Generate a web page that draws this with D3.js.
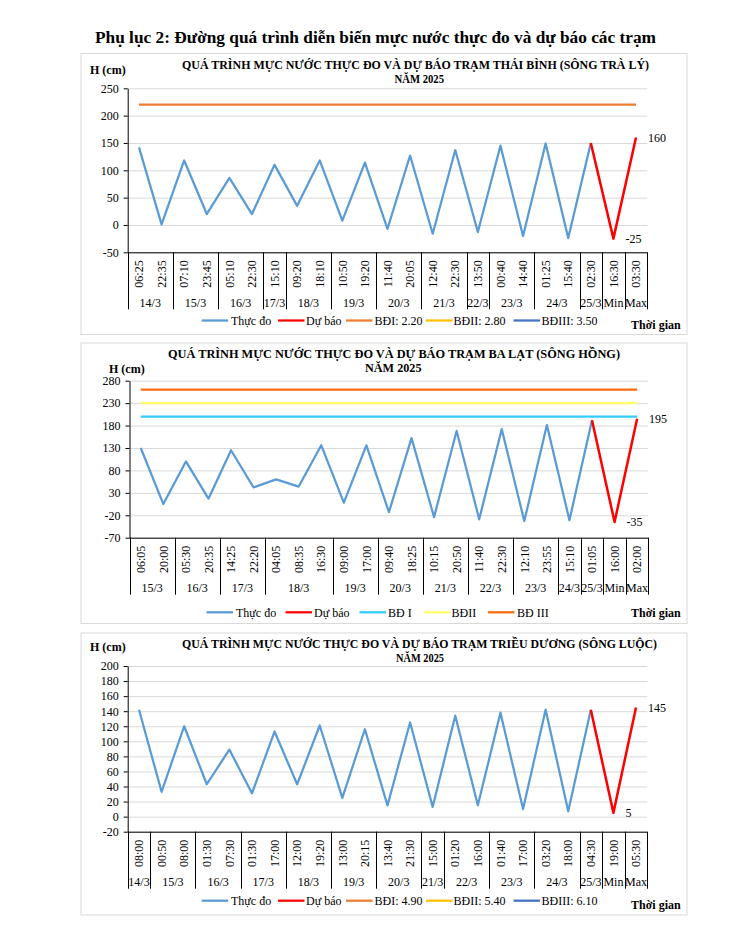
<!DOCTYPE html>
<html><head><meta charset="utf-8">
<script src="https://cdn.jsdelivr.net/npm/d3@7"></script>
<style>
body{margin:0;background:#fff}
svg{display:block}
text{font-family:"Liberation Serif","Times New Roman",serif;fill:#000}
</style>
</head><body>
<svg id="c" width="746" height="939"></svg>
<script>
// ---------------- DATA ----------------
const pageTitle = "Phụ lục 2: Đường quá trình diễn biến mực nước thực đo và dự báo các trạm";

// Chart 1 – Thái Bình (sông Trà Lý)
const tbTitle = ["QUÁ TRÌNH MỰC NƯỚC THỰC ĐO VÀ DỰ BÁO TRẠM  THÁI BÌNH (SÔNG TRÀ LÝ)", "NĂM 2025"];
const tbTimes = ["06:25","22:35","07:10","23:45","05:10","22:30","15:10","09:20","18:10","10:50","19:20","11:40","20:05","12:40","22:30","13:50","00:40","14:40","01:25","15:40","02:30","16:30","03:30"];
const tbDates = [["14/3",2],["15/3",2],["16/3",2],["17/3",1],["18/3",2],["19/3",2],["20/3",2],["21/3",2],["22/3",1],["23/3",2],["24/3",2],["25/3",1],["Min",1],["Max",1]];
const tbObserved = [142,1,118,20,86,20,110,35,118,8,114,-7,127,-16,137,-13,145,-20,149,-24,150];
const tbForecast = [150,-25,160];
const tbAlerts = [220,280,350];
const tbTicks = [250,200,150,100,50,0,-50];
const tbLegend = ["Thực đo","Dự báo","BĐI: 2.20","BĐII: 2.80","BĐIII: 3.50"];

// Chart 2 – Ba Lạt (sông Hồng)
const blTitle = ["QUÁ TRÌNH  MỰC NƯỚC THỰC ĐO VÀ  DỰ BÁO TRẠM BA LẠT  (SÔNG HỒNG)", "NĂM 2025"];
const blTimes = ["06:05","20:00","05:30","20:35","14:25","22:20","04:05","08:35","16:30","09:00","17:00","09:40","18:25","10:15","20:50","11:40","22:30","12:10","23:55","15:10","01:05","16:00","02:00"];
const blDates = [["15/3",2],["16/3",2],["17/3",2],["18/3",3],["19/3",2],["20/3",2],["21/3",2],["22/3",2],["23/3",2],["24/3",1],["25/3",1],["Min",1],["Max",1]];
const blObserved = [130,5,100,17,125,42,60,44,136,8,136,-13,152,-24,168,-29,172,-33,181,-31,192];
const blForecast = [192,-35,195];
const blAlerts = [200,230,260];
const blTicks = [280,230,180,130,80,30,-20,-70];
const blLegend = ["Thực đo","Dự báo","BĐ I","BĐII","BĐ III"];

// Chart 3 – Triều Dương (sông Luộc)
const tdTitle = ["QUÁ TRÌNH MỰC NƯỚC THỰC ĐO VÀ DỰ BÁO TRẠM TRIỀU  DƯƠNG  (SÔNG LUỘC)", "NĂM 2025"];
const tdTimes = ["08:00","00:50","08:00","01:30","07:30","01:30","17:00","12:00","19:20","13:00","20:15","13:40","21:30","15:00","01:20","16:00","01:40","17:00","03:20","18:00","04:30","19:00","05:30"];
const tdDates = [["14/3",1],["15/3",2],["16/3",2],["17/3",2],["18/3",2],["19/3",2],["20/3",2],["21/3",1],["22/3",2],["23/3",2],["24/3",2],["25/3",1],["Min",1],["Max",1]];
const tdObserved = [142,33,120,43,89,31,113,43,121,25,116,15,125,13,134,15,138,10,142,7,142];
const tdForecast = [142,5,145];
const tdAlerts = [490,540,610];
const tdTicks = [200,180,160,140,120,100,80,60,40,20,0,-20];
const tdLegend = ["Thực đo","Dự báo","BĐI: 4.90","BĐII: 5.40","BĐIII: 6.10"];

// ---------------- STYLE / LAYOUT ----------------
const BLUE = "#5B9BD5", RED = "#FF0000";
const colorsA = [BLUE, RED, "#ED7D31", "#FFC000", "#4472C4"];
const colorsB = [BLUE, RED, "#33CCFF", "#FFFF66", "#FF6A0D"];
const SERIF = "Liberation Serif, Times New Roman, serif";

const svg = d3.select("#c");

function fitText(t, w){ t.attr("textLength", w).attr("lengthAdjust","spacingAndGlyphs"); return t; }

fitText(svg.append("text").attr("x",95).attr("y",43).attr("font-size",17).attr("font-weight","bold").text(pageTitle), 561);

function drawChart(cfg){
  const g = svg.append("g");
  g.append("rect").attr("x",cfg.box[0]+0.5).attr("y",cfg.box[1]+0.5).attr("width",cfg.box[2]).attr("height",cfg.box[3])
    .attr("fill","#fff").attr("stroke","#D9D9D9").attr("stroke-width",1);
  fitText(g.append("text").attr("x",cfg.t1[0]).attr("y",cfg.t1[1]).attr("font-size",cfg.tfs).attr("font-weight","bold").text(cfg.title[0]), cfg.t1[2]);
  fitText(g.append("text").attr("x",cfg.t2[0]).attr("y",cfg.t2[1]).attr("font-size",cfg.tfs).attr("font-weight","bold").text(cfg.title[1]), cfg.t2[2]);
  g.append("text").attr("x",cfg.hl[0]).attr("y",cfg.hl[1]).attr("font-size",12).attr("font-weight","bold").text("H (cm)");

  const n = cfg.times.length;
  const x = d3.scaleBand().domain(d3.range(n)).range([cfg.x0, cfg.x1]);
  const cx = i => x(i) + x.bandwidth()/2;
  const y = d3.scaleLinear().domain([cfg.ticks[cfg.ticks.length-1], cfg.ticks[0]]).range([cfg.yB, cfg.yT]);

  // gridlines
  g.append("g").attr("transform",`translate(${cfg.x0},0)`)
    .call(d3.axisLeft(y).tickValues(cfg.ticks).tickSize(-(cfg.x1-cfg.x0)).tickFormat(""))
    .call(s=>{s.select(".domain").remove(); s.selectAll("line").attr("stroke","#D9D9D9").attr("stroke-width",1);});
  // y axis
  g.append("g").attr("transform",`translate(${cfg.x0},0)`)
    .call(d3.axisLeft(y).tickValues(cfg.ticks).tickSize(4).tickPadding(5).tickSizeOuter(0).tickFormat(d=>String(d)))
    .call(s=>{
      s.attr("font-family",SERIF).attr("font-size",12);
      s.select(".domain").attr("stroke","#000");
      s.selectAll("line").attr("stroke","#000");
      s.selectAll("text").attr("fill","#000");
    });
  // x axis (times rotated)
  const xa = g.append("g").attr("transform",`translate(0,${cfg.yB})`)
    .call(d3.axisBottom(x).tickSize(0).tickFormat(i=>cfg.times[i]));
  xa.attr("font-family",SERIF).attr("font-size",12);
  xa.select(".domain").attr("stroke","#000").attr("d",`M${cfg.x0},0.5H${cfg.x1}`);
  xa.selectAll(".tick text").attr("transform","rotate(-90)").attr("x",-8).attr("y",0).attr("dy","0.35em")
    .attr("text-anchor","end").attr("fill","#000");
  // date groups
  let start = 0;
  const bounds = [0];
  cfg.dates.forEach(([lab,cnt])=>{
    const a = x(start), b = (start+cnt<n) ? x(start+cnt) : cfg.x1;
    g.append("text").attr("x",(a+b)/2).attr("y",cfg.yB+50).attr("dy","0.35em").attr("text-anchor","middle")
      .attr("font-size",12).text(lab);
    start += cnt; bounds.push(start);
  });
  bounds.forEach(k=>{
    const xx = Math.round(k<n ? x(k) : cfg.x1)+0.5;
    g.append("line").attr("x1",xx).attr("x2",xx).attr("y1",cfg.yB).attr("y2",cfg.yB+57).attr("stroke","#000").attr("stroke-width",1);
  });

  const line = d3.line().x(d=>cx(d[0])).y(d=>y(d[1]));
  const [ymin, ymax] = y.domain();
  cfg.alerts.forEach((v,k)=>{
    if (v < ymin || v > ymax) return;
    g.append("path").datum(d3.range(n).map(i=>[i,v])).attr("d",line).attr("fill","none")
      .attr("stroke",cfg.colors[k+2]).attr("stroke-width",2.25);
  });
  g.append("path").datum(cfg.obs.map((v,i)=>[i,v])).attr("d",line).attr("fill","none")
    .attr("stroke",BLUE).attr("stroke-width",2.25).attr("stroke-linejoin","round");
  const f0 = cfg.obs.length-1;
  const fc = cfg.fc.map((v,i)=>[f0+i,v]);
  g.append("path").datum(fc).attr("d",line).attr("fill","none")
    .attr("stroke",RED).attr("stroke-width",2.5).attr("stroke-linejoin","round");
  fc.slice(1).forEach(d=>{
    g.append("text").attr("x",cx(d[0])+12).attr("y",y(d[1])).attr("dy","0.35em").attr("font-size",12).text(d[1]);
  });

  cfg.legendX.forEach((p,k)=>{
    g.append("line").attr("x1",p[0]).attr("x2",p[0]+26.5).attr("y1",cfg.legY).attr("y2",cfg.legY)
      .attr("stroke",cfg.colors[k]).attr("stroke-width",2.25);
    g.append("text").attr("x",p[1]).attr("y",cfg.legY).attr("dy","0.35em").attr("font-size",12).text(cfg.legend[k]);
  });
  g.append("text").attr("x",631).attr("y",cfg.tgY).attr("dy","0.35em").attr("font-size",12).attr("font-weight","bold").text("Thời gian");
}

const legA = [[201.7,231],[278,306],[346,374.5],[426,453.5],[513.6,541.6]];
const legB = [[206.5,236],[285.5,314],[359.5,388],[424,451.5],[488,517]];

drawChart({
  box:[80.5,53,606,281], title:tbTitle, tfs:11.5, t1:[182,69,467], t2:[394.5,82.5,49.5], hl:[90,73.5],
  times:tbTimes, dates:tbDates, obs:tbObserved, fc:tbForecast, alerts:tbAlerts, ticks:tbTicks,
  x0:127.7, x1:647.3, yT:88.3, yB:252.3, colors:colorsA, legend:tbLegend, legendX:legA, legY:320.5, tgY:325
});
drawChart({
  box:[80.5,342.5,606,280.5], title:blTitle, tfs:12, t1:[168,357.5,452], t2:[365,371.5,56.5], hl:[109,373],
  times:blTimes, dates:blDates, obs:blObserved, fc:blForecast, alerts:blAlerts, ticks:blTicks,
  x0:129.5, x1:648.4, yT:380.7, yB:537.7, colors:colorsB, legend:blLegend, legendX:legB, legY:612.3, tgY:613
});
drawChart({
  box:[80.5,632.5,606,282], title:tdTitle, tfs:11.5, t1:[182,648,475], t2:[396,661.5,48], hl:[90,651],
  times:tdTimes, dates:tdDates, obs:tdObserved, fc:tdForecast, alerts:tdAlerts, ticks:tdTicks,
  x0:127.7, x1:647.3, yT:666, yB:831.7, colors:colorsA, legend:tdLegend, legendX:legA, legY:900.7, tgY:905
});
</script>
</body></html>
